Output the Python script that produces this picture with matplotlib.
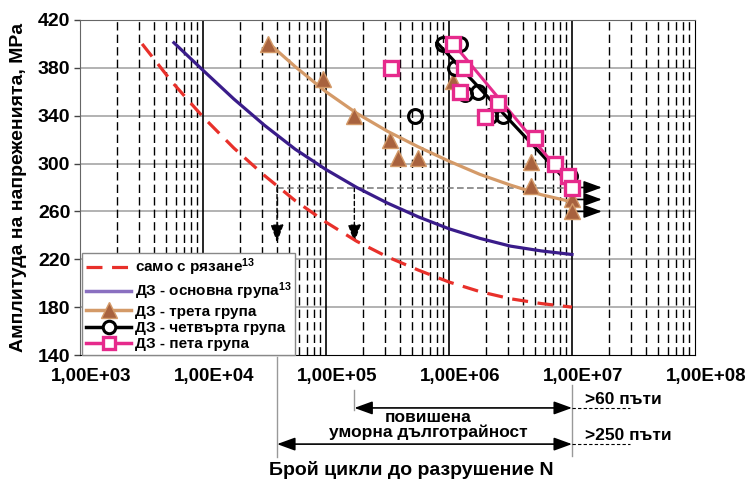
import matplotlib
matplotlib.use('Agg')
import matplotlib.pyplot as plt
import matplotlib.transforms as mtransforms
from matplotlib.lines import Line2D
from matplotlib.ticker import FixedLocator, NullFormatter

plt.rcParams['font.family'] = ['Liberation Sans', 'DejaVu Sans']
plt.rcParams['font.weight'] = 'bold'
plt.rcParams['mathtext.fontset'] = 'custom'
plt.rcParams['mathtext.rm'] = 'Liberation Sans:bold'
plt.rcParams['mathtext.it'] = 'Liberation Sans:bold'
plt.rcParams['mathtext.bf'] = 'Liberation Sans:bold'
plt.rcParams['mathtext.default'] = 'rm'

# fitted curves
red_N = [3.2e3, 5.62e3, 1e4, 1.78e4, 3.16e4, 5.62e4, 1e5, 1.78e5, 3.16e5, 5.62e5, 1e6, 1.78e6, 3.16e6, 5.62e6, 1e7]
red_S = [400, 368, 339, 313, 290, 269, 251, 235, 222, 211, 201, 193, 187, 183, 180]

blue_N = [5.8e3, 1e4, 1.78e4, 3.16e4, 5.62e4, 1e5, 1.78e5, 3.16e5, 5.62e5, 1e6, 1.78e6, 3.16e6, 5.62e6, 1e7]
blue_S = [401, 378, 354, 332, 312, 295, 280, 267, 255.5, 245.5, 237.5, 231, 227, 224]

tan_N = [3.47e4, 5.62e4, 1e5, 1.78e5, 3.16e5, 5.62e5, 1e6, 1.78e6, 3.16e6, 5.62e6, 1e7]
tan_S = [400, 381, 360, 342, 327, 314, 302, 291, 282, 274, 268]

black_fit_N = [8e5, 9.3e6]
black_fit_S = [401, 284]
pink_fit_N = [1.05e6, 1e7]
pink_fit_S = [402, 281]

# test points
tri_N = [3.4e4, 9.5e4, 1.7e5, 3.3e5, 3.85e5, 5.6e5, 1.07e6, 4.6e6, 4.6e6, 1e7, 1e7]
tri_S = [400, 371, 340, 320, 305, 305, 369, 301, 281, 270, 260]
circ_N = [8.9e5, 1.23e6, 1.12e6, 1.35e6, 1.72e6, 2.15e6, 2.75e6, 5.3e5, 9.6e6]
circ_S = [400, 400, 380, 358, 360, 340, 340, 340, 290]
sq_N = [3.37e5, 1.08e6, 1.32e6, 1.23e6, 2.5e6, 1.95e6, 5.0e6, 7.3e6, 9.3e6, 1e7]
sq_S = [380, 400, 380, 360, 351, 339, 321, 300, 290, 280]

runout_S = [280, 270, 260]
gain_N = [4e4, 1.7e5]   # N at 280 MPa for red and blue curves

labels = ['само с рязане$^{13}$', 'ДЗ - основна група$^{13}$', 'ДЗ - трета група',
          'ДЗ - четвърта група', 'ДЗ - пета група']

c_red = '#E8302A'
c_blue = '#3A1C8A'
c_tan = '#D49A68'
c_tri = '#A8623E'
c_pink = '#E62A8C'

head = '-|>,head_length=1.1,head_width=0.4'

fig = plt.figure(figsize=(7.48, 4.84), dpi=100)
ax = fig.add_axes([80/748, 1-355/484, 615/748, 335/484])
ax.set_xscale('log')
ax.set_xlim(1e3, 1e8)
ax.set_ylim(140, 420)

# grid
for y in range(180, 420, 40):
    ax.axhline(y, color='#A6A6A6', lw=1.2, zorder=0)
for d in range(3, 8):
    for m in range(2, 10):
        ax.axvline(m * 10**d, color='black', lw=1, ls=(0, (6, 3)), zorder=0)
for d in range(4, 8):
    ax.axvline(10**d, color='black', lw=1.2, zorder=0)

ax.plot(red_N, red_S, color=c_red, lw=2.3, ls=(0, (5, 3)), zorder=3)
ax.plot(blue_N, blue_S, color=c_blue, lw=2.3, zorder=3)
ax.plot(tan_N, tan_S, color=c_tan, lw=2.3, zorder=3)
ax.plot(black_fit_N, black_fit_S, color='black', lw=2.3, zorder=4)
ax.plot(pink_fit_N, pink_fit_S, color=c_pink, lw=2.2, zorder=4)

ax.plot(tri_N, tri_S, ls='none', marker='^', ms=11, mfc=c_tri, mec=c_tan, mew=1, zorder=5)
ax.plot(circ_N, circ_S, ls='none', marker='o', ms=10, mfc='none', mec='black', mew=2.2, zorder=5)
ax.plot(sq_N, sq_S, ls='none', marker='s', ms=9.5, mfc='white', mec=c_pink, mew=2.4, zorder=6)

# 280 MPa reference line and arrows
ax.plot([gain_N[0], 1e7], [280, 280], color='#808080', lw=1.2, ls=(0, (4, 2)), zorder=2)
for n in gain_N:
    ax.annotate('', xy=(n, 234), xytext=(n, 280),
                arrowprops=dict(arrowstyle=head, color='black', lw=1, ls=(0, (3, 2)),
                                shrinkA=0, shrinkB=0, mutation_scale=10), zorder=2)
for s in runout_S:
    ax.annotate('', xy=(1.75e7, s), xytext=(1e7, s),
                arrowprops=dict(arrowstyle=head, color='black', lw=1.2,
                                shrinkA=0, shrinkB=0, mutation_scale=10), zorder=2)

# axes style
for side in ['left', 'top']:
    ax.spines[side].set_color('#666666')
ax.spines['bottom'].set_color('black')
ax.spines['right'].set_color('black')
ax.set_yticks(range(140, 421, 40))
ax.tick_params(axis='y', length=4, width=1, pad=3, labelsize=14, colors='#444444', labelcolor='black')
ax.xaxis.set_major_locator(FixedLocator([1e3, 1e4, 1e5, 1e6, 1e7, 1e8]))
ax.xaxis.set_minor_formatter(NullFormatter())
ax.set_xticklabels(['1,00E+03', '1,00E+04', '1,00E+05', '1,00E+06', '1,00E+07', '1,00E+08'])
ax.tick_params(axis='x', which='both', length=0, pad=9, labelsize=13.5)
off = mtransforms.ScaledTranslation(11/100, 0, fig.dpi_scale_trans)
for lbl in ax.get_xticklabels():
    lbl.set_transform(lbl.get_transform() + off)

ax.set_ylabel('Амплитуда на напреженията, MPa', fontsize=14, fontweight='bold')
ax.yaxis.set_label_coords(-0.086, 0.5)
ax.set_xlabel('Брой цикли до разрушение N', fontsize=14, fontweight='bold')
ax.xaxis.set_label_coords(0.538, -0.315)

# legend
handles = [
    Line2D([], [], color=c_red, lw=2.3, ls=(0, (5, 3))),
    Line2D([], [], color='#8A70C0', lw=2.5),
    Line2D([], [], color=c_tan, lw=2.5, marker='^', ms=11, mfc=c_tri, mec=c_tan),
    Line2D([], [], color='black', lw=2.5, marker='o', ms=9, mfc='white', mec='black', mew=2.2),
    Line2D([], [], color=c_pink, lw=2.5, marker='s', ms=8.5, mfc='white', mec=c_pink, mew=2.4),
]
leg = ax.legend(handles, labels, loc='lower left', bbox_to_anchor=(0.003, 0.0), borderaxespad=0,
                fancybox=False, framealpha=1, edgecolor='#888888', fontsize=11,
                handlelength=3.0, handletextpad=0.2, labelspacing=0.15, borderpad=0.25,
                numpoints=1)
leg.get_frame().set_linewidth(1)
leg.set_zorder(10)

# annotations below the axis
xt = ax.get_xaxis_transform()
for n, y0, y1 in [(4e4, -0.006, -0.304), (1.7e5, -0.104, -0.164), (1e7, -0.09, -0.30)]:
    ax.plot([n, n], [y0, y1], transform=xt, color='#999999', lw=1, clip_on=False)
for n, y in [(1.7e5, -0.158), (4e4, -0.266)]:
    ax.annotate('', xy=(n, y), xytext=(1e7, y), xycoords=xt, textcoords=xt, annotation_clip=False,
                arrowprops=dict(arrowstyle='<|-|>,head_length=1.1,head_width=0.4', color='black',
                                lw=1.2, shrinkA=0, shrinkB=0, mutation_scale=10))
    ax.plot([1e7, 2.95e7], [y, y], transform=xt, color='black', lw=0.8, ls=(0, (3, 2)), clip_on=False)
ax.text(1.28e7, -0.134, '>60 пъти', transform=xt, fontsize=12.5, ha='left', va='center')
ax.text(1.28e7, -0.239, '>250 пъти', transform=xt, fontsize=12.5, ha='left', va='center')
ax.text(6.8e5, -0.208, 'повишена\nуморна дълготрайност', transform=xt, fontsize=12.5,
        ha='center', va='center', multialignment='center', linespacing=0.95)

fig.savefig('out.png', dpi=100)
